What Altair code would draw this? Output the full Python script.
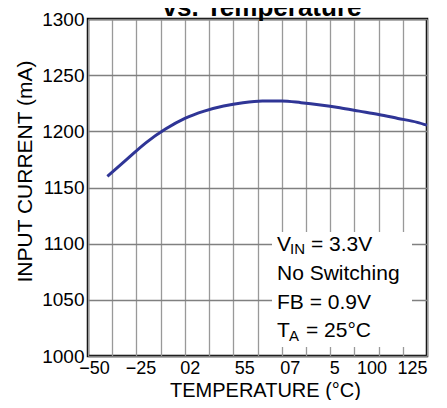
import altair as alt
import pandas as pd

# ---- data ----
temps = [-40, -30, -20, -10, 0, 10, 20, 30, 40, 50, 60, 70, 80, 90, 100, 110, 120, 125]
currents = [1160, 1175, 1190, 1202, 1211.5, 1218, 1222.5, 1225.5, 1227, 1227,
            1225.5, 1223.5, 1221, 1218, 1215, 1211.5, 1208, 1205.5]

x_grid_values = [-50, -37.5, -25, -12.5, 0, 12.5, 25, 37.5, 50, 62.5, 75, 87.5, 100, 112.5, 125]
x_label_values = [-50, -25, 0, 25, 50, 75, 100, 125]
x_label_texts = ["\u221250", "\u221225", "02", "55", "07", "5", "100", "125"]
y_tick_values = [1000, 1050, 1100, 1150, 1200, 1250, 1300]

title_text = "vs. Temperature"
x_title = "TEMPERATURE (\u00b0C)"
y_title = "INPUT CURRENT (mA)"

FONT = "Liberation Sans"

df = pd.DataFrame({"t": temps, "i": currents})

# label mapping expression
label_expr = " : ".join(
    f"datum.value == {v} ? '{s}'" for v, s in zip(x_label_values, x_label_texts)
) + " : ''"

label_shift = [6, 4, 5, 11, 8, 4, -7, -15]
label_offset = {
    "condition": [{"test": f"datum.value == {v}", "value": o}
                  for v, o in zip(x_label_values, label_shift)],
    "value": 0,
}

x_enc = alt.X(
    "t:Q",
    scale=alt.Scale(domain=[-50, 125], nice=False, zero=False),
    axis=alt.Axis(
        values=x_grid_values, labelExpr=label_expr, labelOffset=label_offset,
        title=x_title, grid=True, gridColor="#999999", gridWidth=1.3,
        ticks=False, domain=False, labelFlush=False, labelOverlap=False,
        labelFontSize=18, labelPadding=3, labelColor="black",
        titleFontSize=20, titleFontWeight="normal", titleColor="black",
        titleBaseline="alphabetic", titleX=177, titleY=40,
    ),
)
y_enc = alt.Y(
    "i:Q",
    scale=alt.Scale(domain=[1000, 1300], nice=False, zero=False),
    axis=alt.Axis(
        values=y_tick_values, format="d", title=y_title, grid=True,
        gridColor="#808080", gridWidth=1.3,
        ticks=False, domain=False, labelFontSize=19, labelPadding=4, labelColor="black",
        titleFontSize=21, titleFontWeight="normal", titlePadding=6, titleColor="black",
        titleY=152,
    ),
)

line = alt.Chart(df).mark_line(
    color="#2f3596", strokeWidth=3, interpolate="monotone"
).encode(x=x_enc, y=y_enc)

one = pd.DataFrame({"k": [0]})

box = alt.Chart(one).mark_rect(fill="white").encode(
    x=alt.value(184), x2=alt.value(324), y=alt.value(213), y2=alt.value(328)
)

txt_kw = dict(font=FONT, fontSize=21, align="left", baseline="alphabetic", color="black")
sub_kw = {**txt_kw, "fontSize": 15}
ann = [
    alt.Chart(one).mark_text(text="V", **txt_kw).encode(x=alt.value(189), y=alt.value(232)),
    alt.Chart(one).mark_text(text="IN", **sub_kw).encode(x=alt.value(202), y=alt.value(235)),
    alt.Chart(one).mark_text(text="= 3.3V", **txt_kw).encode(x=alt.value(223), y=alt.value(232)),
    alt.Chart(one).mark_text(text="No Switching", **txt_kw).encode(x=alt.value(189), y=alt.value(261)),
    alt.Chart(one).mark_text(text="FB = 0.9V", **txt_kw).encode(x=alt.value(189), y=alt.value(290)),
    alt.Chart(one).mark_text(text="T", **txt_kw).encode(x=alt.value(189), y=alt.value(318)),
    alt.Chart(one).mark_text(text="A", **sub_kw).encode(x=alt.value(201), y=alt.value(322)),
    alt.Chart(one).mark_text(text="= 25\u00b0C", **txt_kw).encode(x=alt.value(218), y=alt.value(318)),
]

title = alt.Chart(one).mark_text(
    text=title_text, font=FONT, fontSize=26, fontWeight="bold", align="center",
    baseline="alphabetic", color="black"
).encode(x=alt.value(174), y=alt.value(-3))

chart = alt.layer(line, box, *ann, title).properties(
    width=339, height=337,
    autosize=alt.AutoSizeParams(type="none"),
    padding={"left": 80, "top": 11, "right": 12, "bottom": 44},
).configure(font=FONT).configure_view(
    stroke="black", strokeWidth=2.5
).configure_axis(labelFont=FONT, titleFont=FONT)

chart.save("out.html", embed_options={"renderer": "svg", "actions": False})
